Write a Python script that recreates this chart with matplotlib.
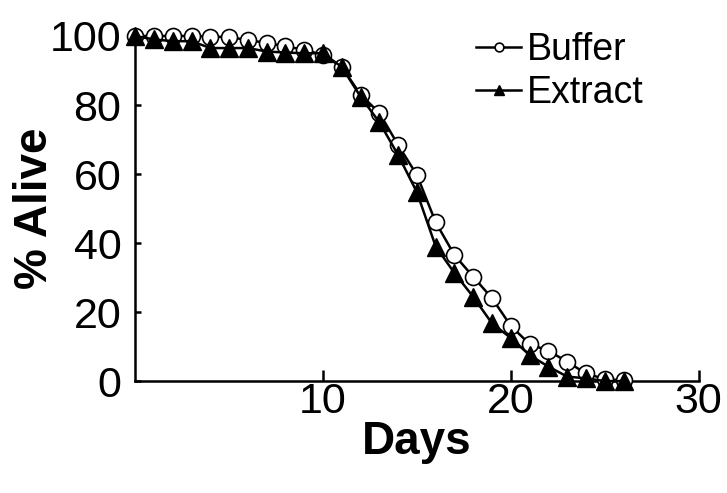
import numpy as np
import matplotlib.pyplot as plt

plt.rcParams['font.family'] = ['Liberation Sans', 'DejaVu Sans']

days = list(range(0, 27))
buffer = [100, 100, 100, 100, 99.8, 99.7, 98.8, 98, 97, 96, 94.5,
          91, 83, 77.7, 68.4, 59.7, 46, 36.5, 30.2, 24, 16,
          10.7, 8.8, 5.6, 2.2, 0.6, 0.2]
extract = [100, 99, 98.5, 98.5, 96.5, 96.5, 96.5, 95.5, 95.2, 95, 95,
           91, 82.4, 75, 65.5, 54.7, 39, 31.3, 24.4, 16.7, 12.5,
           7.5, 4.2, 1.3, 0.8, 0, 0]

fig = plt.figure(figsize=(7.27, 4.93), dpi=100)
ax = fig.add_axes([0.186, 0.227, 0.775, 0.70])

ax.plot(days, buffer, color='k', lw=1.8, marker='o', ms=11.5,
        mfc='white', mec='k', mew=1.2, label='Buffer', clip_on=False, zorder=3)
ax.plot(days, extract, color='k', lw=1.8, marker='^', ms=13,
        mfc='k', mec='k', label='Extract', clip_on=False, zorder=4)

ax.set_xlim(0, 30)
ax.set_ylim(0, 100)
ax.set_xticks([10, 20, 30])
ax.set_yticks([0, 20, 40, 60, 80, 100])
for s in ['top', 'right']:
    ax.spines[s].set_visible(False)
for s in ['left', 'bottom']:
    ax.spines[s].set_linewidth(1.8)
ax.tick_params(axis='x', direction='in', length=8, width=1.8, labelsize=31, pad=1)
ax.tick_params(axis='y', direction='in', length=4, width=1.8, labelsize=31, pad=10)

ax.set_xlabel('Days', fontsize=33, fontweight='bold', labelpad=-2)
ax.set_ylabel('% Alive', fontsize=33, fontweight='bold', labelpad=-5)

leg = ax.legend(loc='upper right', bbox_to_anchor=(0.962, 1.11), frameon=False,
                fontsize=27, handlelength=1.2, handletextpad=0.15,
                labelspacing=0.2, markerscale=0.55)

fig.savefig('out.png', dpi=100)
